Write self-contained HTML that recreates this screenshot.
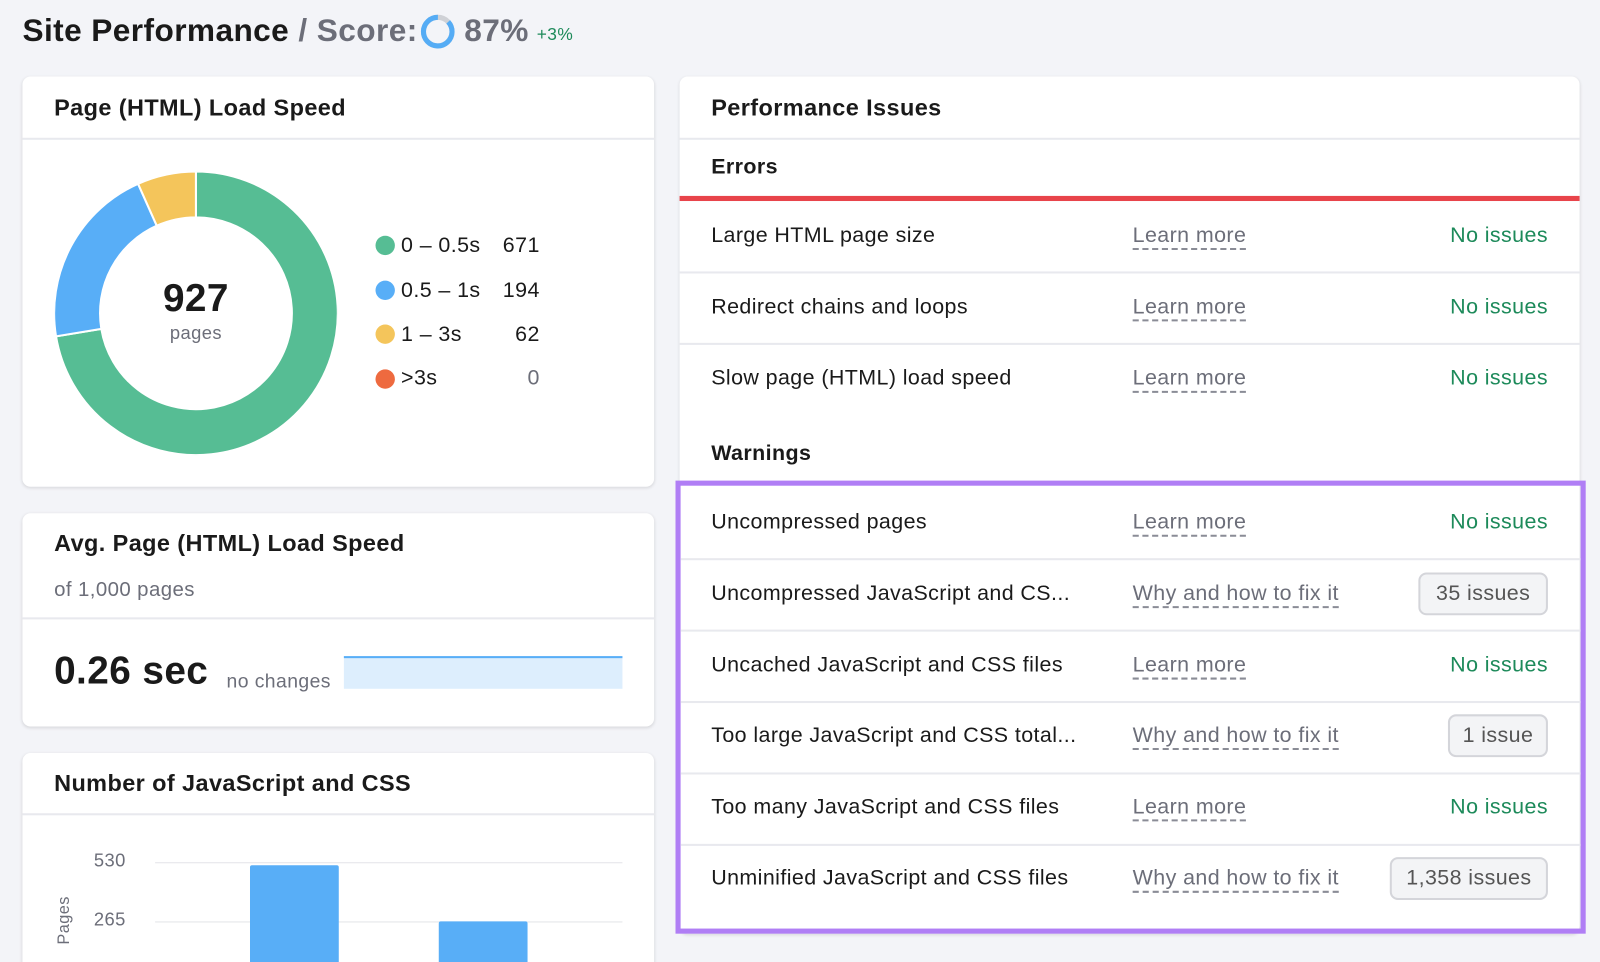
<!DOCTYPE html>
<html style="width:1600px;height:962px;overflow:hidden"><head><meta charset="utf-8"><style>
*{box-sizing:border-box;margin:0;padding:0}
body{width:1600px;height:962px;background:#f3f4f8;font-family:"Liberation Sans",sans-serif;color:#1a1a1a;position:relative;overflow:hidden}
#w{position:absolute;left:0;top:0;width:1568px;height:943px;overflow:hidden;transform:scale(1.0204);transform-origin:0 0;letter-spacing:0.4px}
.a{position:absolute;white-space:nowrap}
.card{position:absolute;background:#fff;border-radius:8px;box-shadow:0 1px 3px rgba(0,0,0,.12)}
.t{font-weight:bold;font-size:23px}
.hl{position:absolute;height:2px;background:#e8e9ee}
.row{font-size:21px;color:#1a1a1a}
.lm{font-size:21px;color:#6c6e79;border-bottom:2px dashed #8a8c96;line-height:24px}
.ok{font-size:21px;color:#1d8a5a}
.badge{position:absolute;border:2px solid #d4d5da;background:#f3f4f6;border-radius:8px;font-size:21px;color:#555;text-align:center;line-height:38px;height:42px}
</style></head><body><div id="w">
<div class="a" style="left:22px;top:12px;font-size:31px;font-weight:bold;color:#1a1a1a">Site Performance <span style="color:#6c6e79">/ Score:</span></div>
<svg class="a" style="left:411px;top:13px" width="36" height="36"><circle cx="18" cy="18" r="14" fill="none" stroke="#cfd1d6" stroke-width="5"/><circle cx="18" cy="18" r="14" fill="none" stroke="#55acf5" stroke-width="5" stroke-dasharray="76.5 88" transform="rotate(-43 18 18)"/></svg>
<div class="a" style="left:455px;top:12px;font-size:31px;font-weight:bold;color:#6c6e79">87%</div>
<div class="a" style="left:526px;top:24px;font-size:17px;color:#1d8a5a">+3%</div>

<div class="card" style="left:22px;top:75px;width:619px;height:402px"></div>
<div class="a t" style="left:53px;top:92px">Page (HTML) Load Speed</div>
<div class="hl" style="left:22px;top:135px;width:619px"></div>
<svg class="a" style="left:53px;top:168px" width="278" height="278" viewBox="-139 -139 278 278">
<path d="M0,-139 A139,139 0 1 1 -137.1,22.6 L-92.7,15.3 A94,94 0 1 0 0,-94Z" fill="#56bd94" stroke="#fff" stroke-width="2"/>
<path d="M-137.1,22.6 A139,139 0 0 1 -56.7,-126.9 L-38.4,-85.8 A94,94 0 0 0 -92.7,15.3Z" fill="#58aef7" stroke="#fff" stroke-width="2"/>
<path d="M-56.7,-126.9 A139,139 0 0 1 0,-139 L0,-94 A94,94 0 0 0 -38.4,-85.8Z" fill="#f4c55b" stroke="#fff" stroke-width="2"/>
</svg>
<div class="a" style="left:142px;top:272px;width:100px;text-align:center;font-size:38px;font-weight:bold">927</div>
<div class="a" style="left:142px;top:316px;width:100px;text-align:center;font-size:18px;color:#6c6e79">pages</div>
<div class="a" style="left:368px;top:231px;width:19px;height:19px;border-radius:50%;background:#56bd94"></div>
<div class="a" style="left:368px;top:275px;width:19px;height:19px;border-radius:50%;background:#58aef7"></div>
<div class="a" style="left:368px;top:318px;width:19px;height:19px;border-radius:50%;background:#f4c55b"></div>
<div class="a" style="left:368px;top:362px;width:19px;height:19px;border-radius:50%;background:#ee6a3f"></div>
<div class="a row" style="left:393px;top:229px">0 – 0.5s</div><div class="a row" style="left:430px;top:229px;width:99px;text-align:right">671</div>
<div class="a row" style="left:393px;top:273px">0.5 – 1s</div><div class="a row" style="left:430px;top:273px;width:99px;text-align:right">194</div>
<div class="a row" style="left:393px;top:316px">1 – 3s</div><div class="a row" style="left:430px;top:316px;width:99px;text-align:right">62</div>
<div class="a row" style="left:393px;top:359px">&gt;3s</div><div class="a row" style="left:430px;top:359px;width:99px;text-align:right;color:#6c6e79">0</div>

<div class="card" style="left:22px;top:503px;width:619px;height:209px"></div>
<div class="a t" style="left:53px;top:519px">Avg. Page (HTML) Load Speed</div>
<div class="a" style="left:53px;top:567px;font-size:20px;color:#6c6e79">of 1,000 pages</div>
<div class="hl" style="left:22px;top:605px;width:619px"></div>
<div class="a" style="left:53px;top:637px;font-size:38px;font-weight:bold">0.26 sec</div>
<div class="a" style="left:222px;top:658px;font-size:19px;color:#6c6e79">no changes</div>
<div class="a" style="left:337px;top:643px;width:273px;height:32px;background:#ddeefd;border-top:2px solid #58aef7"></div>

<div class="card" style="left:22px;top:738px;width:619px;height:220px"></div>
<div class="a t" style="left:53px;top:754px">Number of JavaScript and CSS</div>
<div class="hl" style="left:22px;top:797px;width:619px"></div>
<div class="a" style="left:92px;top:833px;font-size:18px;color:#6c6e79">530</div>
<div class="a" style="left:92px;top:891px;font-size:18px;color:#6c6e79">265</div>
<div class="a" style="left:152px;top:845px;width:458px;height:1px;background:#e3e4e8"></div>
<div class="a" style="left:152px;top:903px;width:458px;height:1px;background:#e3e4e8"></div>
<div class="a" style="left:40px;top:893px;font-size:16px;color:#6c6e79;transform:rotate(-90deg)">Pages</div>
<div class="a" style="left:245px;top:848px;width:87px;height:110px;background:#58aef7;border-radius:2px 2px 0 0"></div>
<div class="a" style="left:430px;top:903px;width:87px;height:55px;background:#58aef7;border-radius:2px 2px 0 0"></div>

<div class="card" style="left:666px;top:75px;width:882px;height:840px"></div>
<div class="a t" style="left:697px;top:92px">Performance Issues</div>
<div class="hl" style="left:666px;top:135px;width:882px"></div>
<div class="a" style="left:697px;top:152px;font-size:21px;font-weight:bold">Errors</div>
<div class="a" style="left:666px;top:192px;width:882px;height:5px;background:#e8444a"></div>
<div class="a" style="left:697px;top:433px;font-size:21px;font-weight:bold">Warnings</div>

<div class="a" style="left:662px;top:471px;width:892px;height:444px;border:5px solid #b07ef5"></div>

<div class="a row" style="left:697px;top:219px">Large HTML page size</div><div class="a lm" style="left:1110px;top:219px">Learn more</div><div class="a ok" style="left:1280px;top:219px;width:237px;text-align:right">No issues</div>
<div class="hl" style="left:666px;top:266px;width:882px"></div>
<div class="a row" style="left:697px;top:289px">Redirect chains and loops</div><div class="a lm" style="left:1110px;top:289px">Learn more</div><div class="a ok" style="left:1280px;top:289px;width:237px;text-align:right">No issues</div>
<div class="hl" style="left:666px;top:336px;width:882px"></div>
<div class="a row" style="left:697px;top:359px">Slow page (HTML) load speed</div><div class="a lm" style="left:1110px;top:359px">Learn more</div><div class="a ok" style="left:1280px;top:359px;width:237px;text-align:right">No issues</div>

<div class="a row" style="left:697px;top:500px">Uncompressed pages</div><div class="a lm" style="left:1110px;top:500px">Learn more</div><div class="a ok" style="left:1280px;top:500px;width:237px;text-align:right">No issues</div>
<div class="hl" style="left:667px;top:547px;width:882px"></div>
<div class="a row" style="left:697px;top:570px">Uncompressed JavaScript and CS...</div><div class="a lm" style="left:1110px;top:570px">Why and how to fix it</div><div class="badge" style="left:1390px;top:561px;width:127px">35 issues</div>
<div class="hl" style="left:667px;top:617px;width:882px"></div>
<div class="a row" style="left:697px;top:640px">Uncached JavaScript and CSS files</div><div class="a lm" style="left:1110px;top:640px">Learn more</div><div class="a ok" style="left:1280px;top:640px;width:237px;text-align:right">No issues</div>
<div class="hl" style="left:667px;top:687px;width:882px"></div>
<div class="a row" style="left:697px;top:709px">Too large JavaScript and CSS total...</div><div class="a lm" style="left:1110px;top:709px">Why and how to fix it</div><div class="badge" style="left:1419px;top:700px;width:98px">1 issue</div>
<div class="hl" style="left:667px;top:757px;width:882px"></div>
<div class="a row" style="left:697px;top:779px">Too many JavaScript and CSS files</div><div class="a lm" style="left:1110px;top:779px">Learn more</div><div class="a ok" style="left:1280px;top:779px;width:237px;text-align:right">No issues</div>
<div class="hl" style="left:667px;top:827px;width:882px"></div>
<div class="a row" style="left:697px;top:849px">Unminified JavaScript and CSS files</div><div class="a lm" style="left:1110px;top:849px">Why and how to fix it</div><div class="badge" style="left:1362px;top:840px;width:155px">1,358 issues</div>
</div></body></html>
